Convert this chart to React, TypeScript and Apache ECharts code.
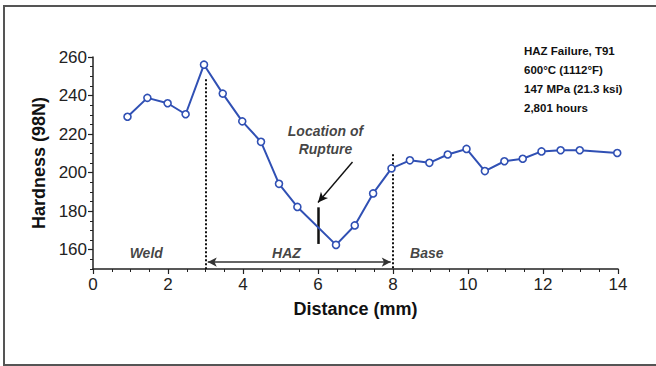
import React, { useEffect, useRef } from "react";
import * as echarts from "echarts";

// Distance from weld centre (mm) and Vickers hardness HV (98N)
const distance = [0.92, 1.45, 1.99, 2.47, 2.96, 3.46, 3.98, 4.48, 4.96, 5.45, 6.48, 6.98, 7.47, 7.96, 8.45, 8.97, 9.46, 9.96, 10.45, 10.97, 11.46, 11.96, 12.47, 12.98, 13.98];
const hardness = [229, 238.8, 236, 230.3, 256, 241, 226.6, 216, 194.2, 182.2, 162.5, 172.6, 189.2, 202.2, 206.4, 205.1, 209.4, 212.3, 200.8, 205.9, 207.2, 211, 211.6, 211.6, 210.2];

const yTicks = [160, 180, 200, 220, 240, 260];

const zoneLabels = ["Weld", "HAZ", "Base"];
const zoneLabelX = [1.42, 5.16, 8.9];
const zoneLabelY = 158.3;

const haz = [3, 8];
const ruptureX = 6;
const ruptureSpan = [182, 163];

const infoLines = ["HAZ Failure, T91", "600\u00b0C (1112\u00b0F)", "147 MPa (21.3 ksi)", "2,801 hours"];

const FONT = "'Liberation Sans', Arial, Helvetica, sans-serif";
const BLUE = "#3050b4";

export default function App() {
  const ref = useRef<HTMLDivElement>(null);

  useEffect(() => {
    if (!ref.current) return;
    const chart = echarts.init(ref.current, null, { renderer: "svg" });
    const points = distance.map((d, i) => [d, hardness[i]]);

    chart.setOption({
      animation: false,
      backgroundColor: "#ffffff",
      textStyle: { fontFamily: FONT },
      grid: { left: 93, right: 38, top: 57, bottom: 97, containLabel: false },
      xAxis: {
        type: "value",
        min: 0,
        max: 14,
        interval: 2,
        name: "Distance (mm)",
        nameLocation: "middle",
        nameGap: 31,
        nameTextStyle: { fontFamily: FONT, fontWeight: "bold", fontSize: 18, color: "#111" },
        axisLine: { show: true, lineStyle: { color: "#222", width: 1.5 } },
        axisTick: { show: true, length: 5, lineStyle: { color: "#222", width: 1.2 } },
        minorTick: { show: true, splitNumber: 4, length: 3, lineStyle: { color: "#222", width: 1 } },
        axisLabel: { fontFamily: FONT, fontSize: 17, color: "#222", margin: 7 },
        splitLine: { show: false },
      },
      yAxis: [
        {
          type: "value",
          min: 150,
          max: 260,
          name: "Hardness (98N)",
          nameLocation: "middle",
          nameGap: 37,
          nameRotate: 90,
          nameTextStyle: { fontFamily: FONT, fontWeight: "bold", fontSize: 18, color: "#111" },
          axisLine: { show: true, lineStyle: { color: "#222", width: 1.5 } },
          axisTick: { show: true, length: 5, customValues: yTicks, lineStyle: { color: "#222", width: 1.2 } },
          axisLabel: { fontFamily: FONT, fontSize: 17, color: "#222", margin: 6, customValues: yTicks },
          splitLine: { show: false },
        },
        {
          // minor ticks every 5 units
          type: "value",
          min: 150,
          max: 260,
          interval: 5,
          position: "left",
          axisLine: { show: false },
          axisTick: { show: true, length: 3, lineStyle: { color: "#222", width: 1 } },
          axisLabel: { show: false },
          splitLine: { show: false },
        },
      ],
      series: [
        {
          type: "line",
          data: points,
          symbol: "circle",
          symbolSize: 7,
          itemStyle: { color: "#ffffff", borderColor: BLUE, borderWidth: 1.6 },
          lineStyle: { color: BLUE, width: 2 },
          z: 5,
          markLine: {
            silent: true,
            symbol: ["none", "none"],
            label: { show: false },
            data: [
              [
                { coord: [haz[0], 248.5], lineStyle: { type: [2, 2], color: "#111", width: 2 } },
                { coord: [haz[0], 150] },
              ],
              [
                { coord: [haz[1], 209.5], lineStyle: { type: [2, 2], color: "#111", width: 2 } },
                { coord: [haz[1], 150] },
              ],
              [
                { coord: [ruptureX, ruptureSpan[0]], lineStyle: { type: "solid", color: "#111", width: 2.5 } },
                { coord: [ruptureX, ruptureSpan[1]] },
              ],
            ],
          },
        },
        {
          // HAZ width arrow
          type: "line",
          data: [],
          markLine: {
            silent: true,
            symbol: ["arrow", "arrow"],
            symbolSize: [7, 9],
            label: { show: false },
            lineStyle: { type: "solid", color: "#333", width: 1.5 },
            data: [[{ coord: [haz[0] + 0.06, 153.6] }, { coord: [haz[1] - 0.06, 153.6] }]],
          },
        },
        {
          // pointer to rupture location
          type: "line",
          data: [],
          markLine: {
            silent: true,
            symbol: ["none", "arrow"],
            symbolSize: [7, 10],
            label: { show: false },
            lineStyle: { type: "solid", color: "#111", width: 1.4 },
            data: [[{ coord: [6.92, 205.5] }, { coord: [6.0, 184.5] }]],
          },
        },
        {
          type: "scatter",
          symbolSize: 0,
          silent: true,
          data: zoneLabels.map((t, i) => ({ value: [zoneLabelX[i], zoneLabelY], name: t })),
          label: {
            show: true,
            position: "inside",
            formatter: (p: any) => p.name,
            fontFamily: FONT,
            fontWeight: "bold",
            fontStyle: "italic",
            fontSize: 14,
            color: "#111",
          },
        },
        {
          type: "scatter",
          symbolSize: 0,
          silent: true,
          data: [{ value: [6.2, 217], name: "Location of\nRupture" }],
          label: {
            show: true,
            position: "inside",
            formatter: (p: any) => p.name,
            fontFamily: FONT,
            fontWeight: "bold",
            fontStyle: "italic",
            fontSize: 14,
            lineHeight: 18,
            align: "center",
            color: "#111",
          },
        },
      ],
      graphic: [
        {
          type: "rect",
          shape: { x: 4, y: 6, width: 700, height: 359 },
          style: { fill: "none", stroke: "#555", lineWidth: 2 },
          silent: true,
        },
        ...infoLines.map((t, i) => ({
          type: "text",
          left: 524,
          top: 45 + i * 19,
          style: { text: t, fontFamily: FONT, fontWeight: "bold", fontSize: 11.5, fill: "#111" },
        })),
      ],
    });

    return () => chart.dispose();
  }, []);

  return (
    <div
      ref={ref}
      style={{ position: "fixed", left: 0, top: 0, width: 656, height: 366, background: "#fff" }}
    />
  );
}
